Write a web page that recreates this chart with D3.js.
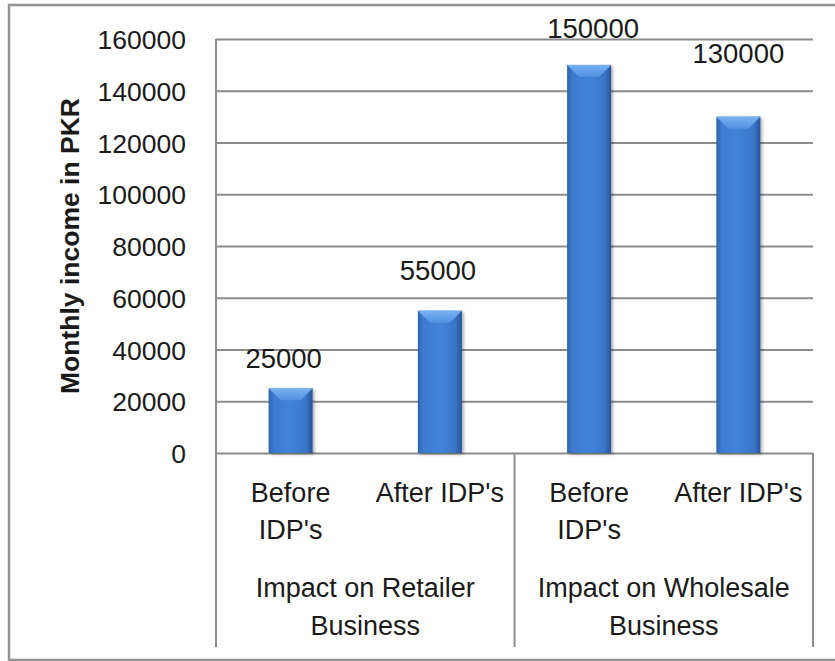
<!DOCTYPE html>
<html>
<head>
<meta charset="utf-8">
<script src="https://cdn.jsdelivr.net/npm/d3@7"></script>
<style>
	body { margin: 0; background: #fff; }
	text { font-family: "Liberation Sans", Arial, sans-serif; fill: #1a1a1a; }
</style>
</head>
<body>
<svg id="chart" width="835" height="661"></svg>
<script>
// Data ======================================================================
var barKeys   = ["retail-before", "retail-after", "whole-before", "whole-after"];
var barValues = [25000, 55000, 150000, 130000];
var subLabels = [["Before", "IDP's"], ["After IDP's"], ["Before", "IDP's"], ["After IDP's"]];
var groupLabels = [["Impact on Retailer", "Business"], ["Impact on Wholesale", "Business"]];
var yTicks = [0, 20000, 40000, 60000, 80000, 100000, 120000, 140000, 160000];
var yTitle = "Monthly income in PKR";

// Layout ====================================================================
var plot = { left: 216, right: 813, top: 39, bottom: 453 };
var axisBottom = 647;
var gridColor = "#8c8c8c";
// hand-placed data labels in the original (lift above bar top, x nudge)
var labelLift = [20, 31, 27, 54];
var labelNudge = [-7, -2, 4, 0];

var svg = d3.select("#chart");

// outer frame
svg.append("rect")
	.attr("x", 9)
	.attr("y", 5)
	.attr("width", 900)
	.attr("height", 655)
	.attr("fill", "none")
	.attr("stroke", "#929292")
	.attr("stroke-width", 2.5);

// Scales ====================================================================
var xScale = d3.scaleBand()
	.domain(barKeys)
	.range([plot.left, plot.right])
	.paddingInner(0.705)
	.paddingOuter(0.3525);

var step = xScale.step();

var yScale = d3.scaleLinear()
	.domain([0, 160000])
	.range([plot.bottom, plot.top]);

// Gradients =================================================================
var defs = svg.append("defs");

var bodyGrad = defs.append("linearGradient")
	.attr("id", "barBody")
	.attr("x1", "0").attr("x2", "1").attr("y1", "0").attr("y2", "0");
[["0%", "#2f64ad"], ["12%", "#3c7bcf"], ["50%", "#4183d6"], ["85%", "#3a76c8"], ["100%", "#27549a"]]
	.forEach(function(s) { bodyGrad.append("stop").attr("offset", s[0]).attr("stop-color", s[1]); });

var topGrad = defs.append("linearGradient")
	.attr("id", "barTop")
	.attr("x1", "0").attr("x2", "0").attr("y1", "0").attr("y2", "1");
[["0%", "#7ab3f2"], ["100%", "#4f90e0"]]
	.forEach(function(s) { topGrad.append("stop").attr("offset", s[0]).attr("stop-color", s[1]); });

var shadow = defs.append("filter")
	.attr("id", "barShadow")
	.attr("x", "-20%").attr("y", "-10%").attr("width", "150%").attr("height", "130%");
shadow.append("feDropShadow")
	.attr("dx", 2).attr("dy", 1.5)
	.attr("stdDeviation", 1.8)
	.attr("flood-color", "#000")
	.attr("flood-opacity", 0.3);

// Grid + axes ===============================================================
var yAxis = d3.axisLeft(yScale)
	.tickValues(yTicks)
	.tickSize(-(plot.right - plot.left))
	.tickPadding(30)
	.tickFormat(d3.format("d"));

svg.append("g")
	.attr("class", "y-axis")
	.attr("transform", "translate(" + plot.left + ",0)")
	.call(yAxis)
	.call(function(g) {
		g.select(".domain").remove();
		g.selectAll(".tick line")
			.attr("stroke", gridColor)
			.attr("stroke-width", 2);
		g.selectAll(".tick text")
			.attr("font-size", 26.5)
			.attr("font-family", "Liberation Sans, Arial, sans-serif")
			.attr("fill", "#1a1a1a")
			.attr("dy", "0.36em");
	});

// vertical axis line
svg.append("line")
	.attr("x1", plot.left).attr("x2", plot.left)
	.attr("y1", plot.top).attr("y2", axisBottom)
	.attr("stroke", gridColor).attr("stroke-width", 2);

// group dividers on the category axis
var dividers = [plot.left + step * 2, plot.right];
svg.selectAll(".divider")
	.data(dividers)
	.enter()
	.append("line")
	.attr("class", "divider")
	.attr("x1", function(d) { return d; })
	.attr("x2", function(d) { return d; })
	.attr("y1", plot.bottom)
	.attr("y2", axisBottom)
	.attr("stroke", gridColor)
	.attr("stroke-width", 2);

// Bars ======================================================================
var bars = svg.selectAll(".bar")
	.data(barValues)
	.enter()
	.append("g")
	.attr("class", "bar")
	.attr("filter", "url(#barShadow)");

bars.append("rect")
	.attr("x", function(d, i) { return xScale(barKeys[i]); })
	.attr("y", function(d) { return yScale(d); })
	.attr("width", xScale.bandwidth())
	.attr("height", function(d) { return plot.bottom - yScale(d); })
	.attr("fill", "url(#barBody)");

var bevel = 12;
bars.append("polygon")
	.attr("points", function(d, i) {
		var x0 = xScale(barKeys[i]), x1 = x0 + xScale.bandwidth(), y0 = yScale(d);
		return [[x0, y0], [x1, y0], [x1 - bevel, y0 + bevel], [x0 + bevel, y0 + bevel]].join(" ");
	})
	.attr("fill", "url(#barTop)");

// Data labels ===============================================================
svg.selectAll(".value-label")
	.data(barValues)
	.enter()
	.append("text")
	.attr("class", "value-label")
	.attr("x", function(d, i) { return xScale(barKeys[i]) + xScale.bandwidth() / 2 + labelNudge[i]; })
	.attr("y", function(d, i) { return yScale(d) - labelLift[i]; })
	.attr("text-anchor", "middle")
	.attr("font-size", 27.5)
	.text(function(d) { return d; });

// Category labels ===========================================================
var sub = svg.selectAll(".sub-label")
	.data(subLabels)
	.enter()
	.append("text")
	.attr("class", "sub-label")
	.attr("text-anchor", "middle")
	.attr("font-size", 27);

sub.selectAll("tspan")
	.data(function(d, i) { return d.map(function(t) { return { t: t, i: i }; }); })
	.enter()
	.append("tspan")
	.attr("x", function(d) { return xScale(barKeys[d.i]) + xScale.bandwidth() / 2; })
	.attr("y", function(d, j) { return 502 + j * 37; })
	.text(function(d) { return d.t; });

var grp = svg.selectAll(".group-label")
	.data(groupLabels)
	.enter()
	.append("text")
	.attr("class", "group-label")
	.attr("text-anchor", "middle")
	.attr("font-size", 27);

grp.selectAll("tspan")
	.data(function(d, i) { return d.map(function(t) { return { t: t, i: i }; }); })
	.enter()
	.append("tspan")
	.attr("x", function(d) { return plot.left + step * (2 * d.i + 1); })
	.attr("y", function(d, j) { return 597 + j * 38; })
	.text(function(d) { return d.t; });

// Y title ===================================================================
svg.append("text")
	.attr("transform", "translate(79," + ((plot.top + plot.bottom) / 2) + ") rotate(-90)")
	.attr("text-anchor", "middle")
	.attr("font-size", 26.5)
	.attr("font-weight", "bold")
	.text(yTitle);
</script>
</body>
</html>
